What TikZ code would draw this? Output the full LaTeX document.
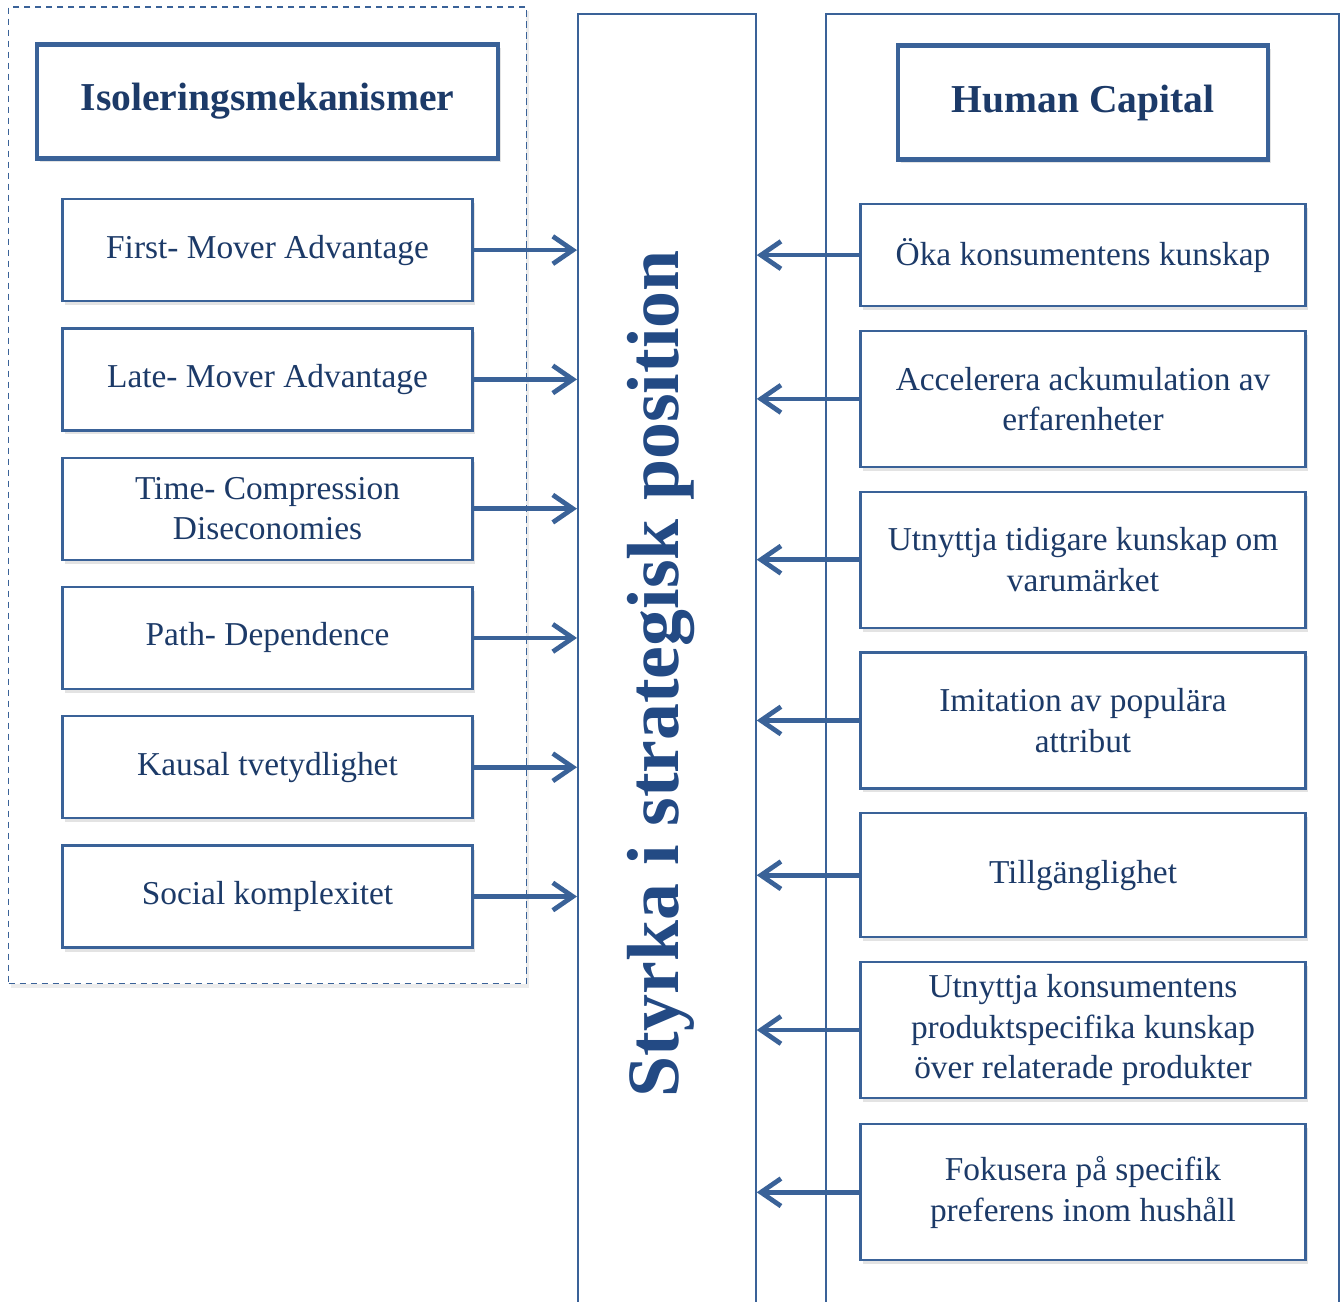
\documentclass[tikz,border=0pt]{standalone}
\usepackage{fontspec}
\setmainfont{Liberation Serif}
\usetikzlibrary{arrows.meta, positioning, fit, shadows, backgrounds}
\definecolor{hcblue}{HTML}{3A6298}
\definecolor{hctext}{HTML}{1C3A68}
\definecolor{hctitle}{HTML}{234A84}

\begin{document}
\begin{tikzpicture}[
    node distance=0.5cm,
    box/.style={rectangle, draw=hcblue, line width=1.3pt, fill=white, align=center, text=hctext,
        font=\fontsize{19}{23}\selectfont,
        drop shadow={shadow xshift=0.5mm, shadow yshift=-0.8mm, opacity=0.22}},
    leftbox/.style={box, minimum width=8.2cm, minimum height=2.04cm},
    rightbox/.style={box, minimum width=8.9cm, minimum height=2.72cm},
    headbox/.style={box, line width=2.8pt, minimum height=2.28cm, font=\fontsize{22.5}{27}\selectfont\bfseries},
    panel/.style={rectangle, draw=hcblue, line width=1pt, anchor=north west},
    arrow/.style={-{Straight Barb[length=4mm, width=5.5mm]}, draw=hcblue, line width=2.7pt}
]
\useasboundingbox (0,0) rectangle (26.86,-26.04);

% Mittkolumn och hoegra ram
\node[panel, minimum width=3.56cm, minimum height=26.04cm] (core) at (11.54,-0.26) {};
\node[panel, minimum width=10.26cm, minimum height=26.04cm] (hcpanel) at (16.5,-0.26) {};
\node[rotate=90, text=hctitle, font=\fontsize{42}{48}\selectfont\bfseries, xshift=-0.18cm, yshift=0.12cm]
    (title) at (core.center) {Styrka i strategisk position};

% Rubriker
\node[headbox, minimum width=9.22cm] (isol) at (5.35,-2.03) {Isoleringsmekanismer};
\node[headbox, minimum width=7.4cm] (hum) at (21.66,-2.05) {Human Capital};

% Isoleringsmekanismer
\node[leftbox, below=0.74cm of isol] (fma) {First- Mover Advantage};
\node[leftbox, below=of fma] (lma) {Late- Mover Advantage};
\node[leftbox, below=of lma] (tcd) {Time- Compression\\Diseconomies};
\node[leftbox, below=of tcd] (path) {Path- Dependence};
\node[leftbox, below=of path] (kaus) {Kausal tvetydlighet};
\node[leftbox, below=of kaus] (soc) {Social komplexitet};

\begin{scope}[on background layer]
\node[draw=hcblue, line width=0.8pt, dash pattern=on 0.13cm off 0.09cm, fill=white,
    drop shadow={shadow xshift=0.5mm, shadow yshift=-0.8mm, opacity=0.15},
    fit=(isol)(soc), inner xsep=0.52cm, inner ysep=0.7cm] (isolram) {};
\end{scope}

% Human Capital
\node[rightbox, minimum height=2.04cm, below=0.82cm of hum] (oka) {Öka konsumentens kunskap};
\node[rightbox, below=0.45cm of oka] (acc) {Accelerera ackumulation av\\erfarenheter};
\node[rightbox, below=0.45cm of acc] (varu) {Utnyttja tidigare kunskap om\\varumärket};
\node[rightbox, below=0.45cm of varu] (imit) {Imitation av populära\\attribut};
\node[rightbox, minimum height=2.48cm, below=0.45cm of imit] (till) {Tillgänglighet};
\node[rightbox, below=0.45cm of till] (prod) {Utnyttja konsumentens\\produktspecifika kunskap\\över relaterade produkter};
\node[rightbox, below=0.48cm of prod] (fok) {Fokusera på specifik\\preferens inom hushåll};

% Pilar
\foreach \n in {fma, lma, tcd, path, kaus, soc}
    \draw[arrow] (\n.east) -- (\n.east -| core.west);
\foreach \n in {oka, acc, varu, imit, till, prod, fok}
    \draw[arrow] (\n.west) -- (\n.west -| core.east);

\end{tikzpicture}
\end{document}
